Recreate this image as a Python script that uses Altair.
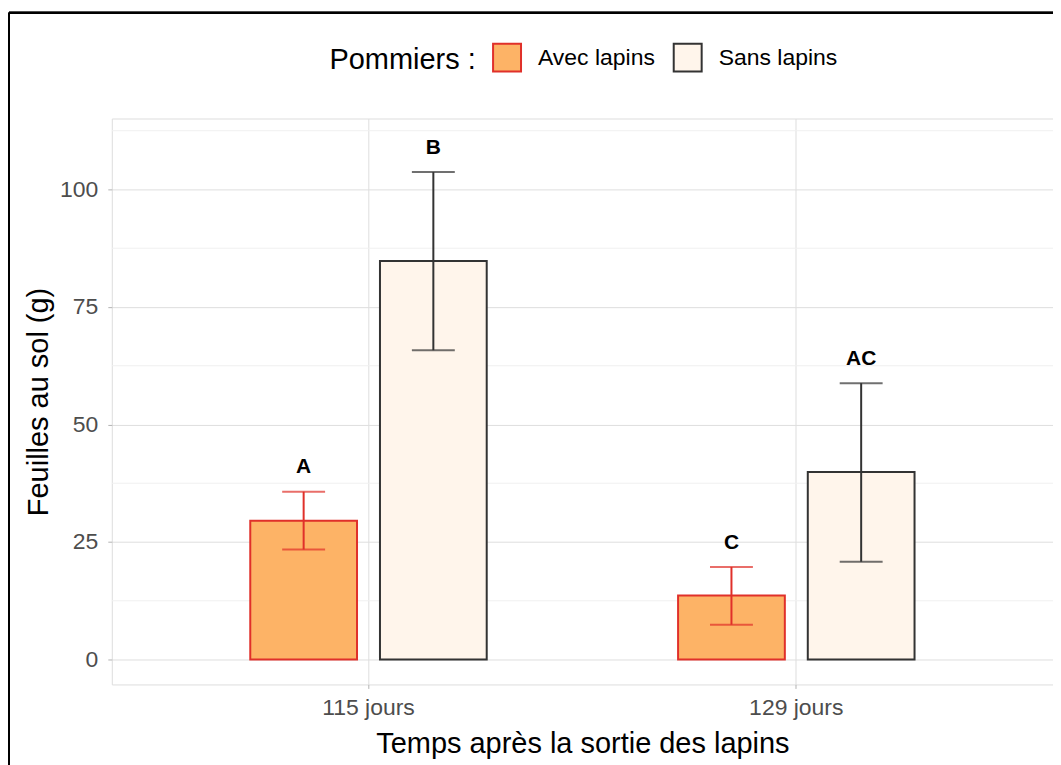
import altair as alt
import pandas as pd

temps = ["115 jours", "115 jours", "129 jours", "129 jours"]
traitement = ["Avec lapins", "Sans lapins", "Avec lapins", "Sans lapins"]
moyenne = [29.5, 84.8, 13.6, 39.9]
err_bas = [23.4, 65.8, 7.4, 20.8]
err_haut = [35.7, 103.7, 19.7, 58.8]
lettres = ["A", "B", "C", "AC"]
lettre_y = [41.0, 108.9, 24.8, 63.9]
minor_breaks = [12.5, 37.5, 62.5, 87.5, 112.5]

df = pd.DataFrame({"temps": temps, "trt": traitement, "moy": moyenne,
                   "lo": err_bas, "hi": err_haut, "lab": lettres, "ly": lettre_y})
minor_df = pd.DataFrame({"v": minor_breaks})

FONT = "Liberation Sans"
cats = ["115 jours", "129 jours"]
groups = ["Avec lapins", "Sans lapins"]
fills = ["#FDB366", "#FFF5EB"]
strokes = ["#E0302A", "#333333"]

xscale = alt.Scale(domain=cats, paddingInner=0.4, paddingOuter=0.3)
xenc = alt.X("temps:N", scale=xscale,
             axis=alt.Axis(title="Temps après la sortie des lapins", labelAngle=0,
                           bandPosition=0.5, grid=True, gridColor="#dedede",
                           ticks=True, tickColor="#b3b3b3", tickSize=4, domain=False,
                           labelFontSize=23, labelColor="#4d4d4d", labelPadding=8,
                           titleFontSize=29, titleColor="#000000", titleFontWeight="normal",
                           titlePadding=10))
yscale = alt.Scale(domain=[-5.3, 115.1], nice=False, zero=False)
xoff = alt.XOffset("trt:N", scale=alt.Scale(domain=groups, paddingInner=0.177, paddingOuter=0.078))

minor = alt.Chart(minor_df).mark_rule(color="#f0f0f0", strokeWidth=1).encode(
    y=alt.Y("v:Q", scale=yscale))

bars = alt.Chart(df).mark_bar(strokeWidth=2).encode(
    x=xenc,
    xOffset=xoff,
    y=alt.Y("moy:Q", scale=yscale,
            axis=alt.Axis(title="Feuilles au sol (g)", values=[0, 25, 50, 75, 100],
                          grid=True, gridColor="#dedede", ticks=True, tickColor="#b3b3b3",
                          tickSize=4, domain=False, labelFontSize=23, labelColor="#4d4d4d",
                          labelPadding=10, titleFontSize=29, titleColor="#000000",
                          titleFontWeight="normal", titlePadding=6)),
    fill=alt.Fill("trt:N", scale=alt.Scale(domain=groups, range=fills),
                  legend=alt.Legend(title="Pommiers :", orient="none", direction="horizontal",
                                    titleOrient="left", legendX=218, legendY=-76,
                                    symbolType="square", symbolSize=784, symbolStrokeWidth=2,
                                    titleFontSize=29, titleFontWeight="normal", titleColor="#000000",
                                    labelFontSize=23, labelColor="#000000", titlePadding=16,
                                    labelOffset=16, columnPadding=14)),
    stroke=alt.Stroke("trt:N", scale=alt.Scale(domain=groups, range=strokes), legend=None),
)

rules = alt.Chart(df).mark_rule(strokeWidth=2).encode(
    x=alt.X("temps:N", scale=xscale),
    xOffset=xoff,
    y=alt.Y("lo:Q", scale=yscale),
    y2="hi:Q",
    color=alt.Color("trt:N", scale=alt.Scale(domain=groups, range=strokes), legend=None),
)
caps_hi = alt.Chart(df).mark_tick(size=43, thickness=2).encode(
    x=alt.X("temps:N", scale=xscale),
    xOffset=xoff,
    y=alt.Y("hi:Q", scale=yscale),
    color=alt.Color("trt:N", scale=alt.Scale(domain=groups, range=strokes), legend=None),
)
caps_lo = caps_hi.encode(y=alt.Y("lo:Q", scale=yscale))

texts = alt.Chart(df).mark_text(fontSize=21, fontWeight="bold", font=FONT, color="#000000",
                                baseline="middle").encode(
    x=alt.X("temps:N", scale=xscale),
    xOffset=xoff,
    y=alt.Y("ly:Q", scale=yscale),
    text="lab:N",
)

frame_v = alt.Chart(df).mark_rule(color="#000000", strokeWidth=2).encode(
    x=alt.value(-103), y=alt.value(-106), y2=alt.value(700))
frame_h = alt.Chart(df).mark_rule(color="#000000", strokeWidth=2).encode(
    x=alt.value(-103), x2=alt.value(1000), y=alt.value(-106))

chart = alt.layer(minor, bars, rules, caps_hi, caps_lo, texts, frame_v, frame_h).resolve_scale(
    color="independent"
).properties(
    width=943, height=567,
    autosize=alt.AutoSizeParams(type="none"),
    padding={"left": 104, "top": 110, "right": 0, "bottom": 80},
    background="#ffffff",
).configure_view(stroke="#c4c4c4", strokeWidth=1.2).configure(font=FONT)

chart.save("out.html", embed_options={"renderer": "svg", "actions": False})
